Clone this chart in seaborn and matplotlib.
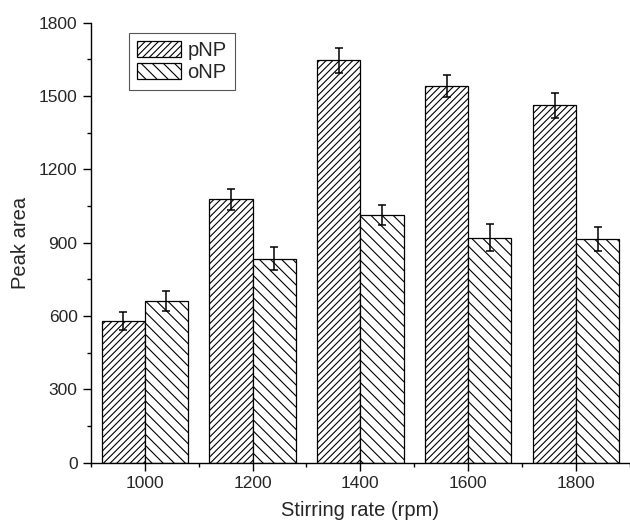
import numpy as np
import pandas as pd
import matplotlib
matplotlib.use('Agg')
import matplotlib.pyplot as plt
import seaborn as sns
from matplotlib.ticker import MultipleLocator, FixedLocator

rates = ['1000', '1200', '1400', '1600', '1800']
pnp = [578, 1078, 1646, 1541, 1462]
onp = [662, 835, 1012, 921, 914]
pnp_err = [37, 43, 50, 47, 51]
onp_err = [41, 46, 41, 55, 49]

data = pd.DataFrame({
    'rate': rates * 2,
    'area': pnp + onp,
    'compound': ['pNP'] * len(rates) + ['oNP'] * len(rates),
})

sns.set_style('ticks')
plt.rcParams['font.family'] = ['Liberation Sans', 'DejaVu Sans']
plt.rcParams['hatch.linewidth'] = 0.8
plt.rcParams['hatch.color'] = 'black'

fig = plt.figure(figsize=(6.3, 5.24), dpi=100)
ax = fig.add_axes([0.144, 0.117, 0.856, 0.8397])

sns.barplot(data=data, x='rate', y='area', hue='compound',
            palette=['white', 'white'], edgecolor='black', linewidth=0.9,
            width=0.8, errorbar=None, legend=False, ax=ax)

# hatch patterns + error bars on each bar group
hatches = ['/////', '\\\\\\']
errs = [pnp_err, onp_err]
for cont, h, e in zip(ax.containers, hatches, errs):
    xs = []
    ys = []
    for bar in cont:
        bar.set_hatch(h)
        xs.append(bar.get_x() + bar.get_width() / 2)
        ys.append(bar.get_height())
    ax.errorbar(xs, ys, yerr=e, fmt='none', ecolor='black',
                elinewidth=1.1, capsize=3.2, capthick=1.1, zorder=5)

ax.set_ylim(0, 1800)
ax.set_xlim(-0.5, 4.5)
ax.yaxis.set_major_locator(MultipleLocator(300))
ax.yaxis.set_minor_locator(MultipleLocator(150))
ax.xaxis.set_minor_locator(FixedLocator(np.arange(-0.5, 5.0, 1.0)))

sns.despine(ax=ax)
for s in ['left', 'bottom']:
    ax.spines[s].set_linewidth(1.0)
    ax.spines[s].set_color('black')
ax.tick_params(which='major', direction='out', length=6, width=1, labelsize=12.5, color='black')
ax.tick_params(which='minor', direction='out', length=3, width=1, color='black')

ax.set_xlabel('Stirring rate (rpm)', fontsize=14.5, labelpad=7)
ax.set_ylabel('Peak area', fontsize=14.5, labelpad=6)

leg = ax.legend(ax.containers, ['pNP', 'oNP'], loc='upper left',
                bbox_to_anchor=(0.071, 0.977), borderaxespad=0,
                fontsize=14.5, fancybox=False, framealpha=1,
                handlelength=2.2, handleheight=0.85, handletextpad=0.3,
                labelspacing=0.15, borderpad=0.4)
leg.get_frame().set_edgecolor('#555555')
leg.get_frame().set_linewidth(0.8)

fig.savefig('out.png', dpi=100)
